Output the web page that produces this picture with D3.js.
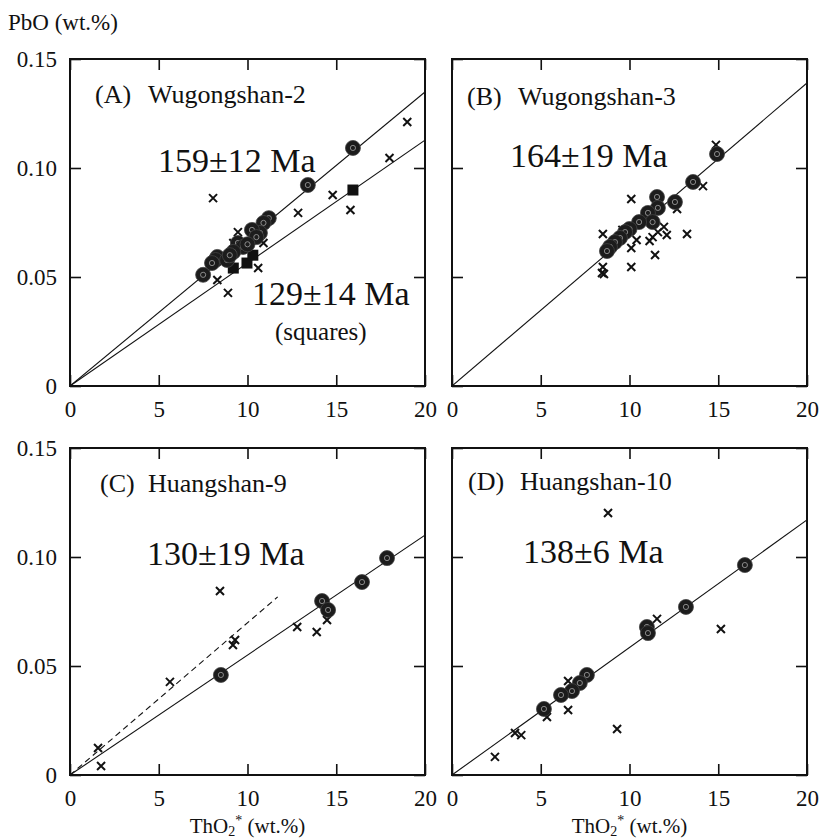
<!DOCTYPE html>
<html><head><meta charset="utf-8">
<script src="https://cdn.jsdelivr.net/npm/d3@7"></script>
<style>
html,body{margin:0;padding:0;background:#fff;}
</style></head>
<body>
<svg id="chart" width="819" height="839"></svg>
<script>
// ---------------- DATA ----------------
const xTicks = [0, 5, 10, 15, 20];
const yTicks = [0, 0.05, 0.10, 0.15];
const yTickLabels = ["0", "0.05", "0.10", "0.15"];

// Panel A: Wugongshan-2
const aCircles = [[15.94,0.1092],[13.4,0.0922],[11.2,0.0770],[10.9,0.0748],[10.7,0.0702],[10.25,0.0716],
  [10.5,0.0683],[9.46,0.0656],[9.75,0.0638],[9.2,0.0615],[8.3,0.0592],[8.2,0.0578],[8.0,0.0564],
  [8.85,0.0578],[9.0,0.0600],[10.0,0.0650],[7.5,0.0510]];
const aSquares = [[9.2,0.0541],[9.97,0.0564],[10.3,0.0600],[15.94,0.0899]];
const aCrosses = [[19.0,0.1211],[18.0,0.1046],[14.8,0.0876],[12.85,0.0794],[15.8,0.0807],[8.06,0.0862],
  [9.46,0.0706],[9.2,0.0656],[10.9,0.0656],[10.6,0.0541],[8.3,0.0486],[8.9,0.0427]];
const aLineUpper = [[0,0],[20,0.1349]];
const aLineLower = [[0,0],[20,0.1128]];

// Panel B: Wugongshan-3
const bCircles = [[14.93,0.1064],[13.58,0.0936],[12.56,0.0844],[11.55,0.0867],[11.6,0.0817],[11.04,0.0794],
  [11.3,0.0752],[10.54,0.0752],[10.0,0.0720],[9.75,0.0706],[9.46,0.0679],[9.18,0.0660],[8.9,0.0638],[8.73,0.0619]];
const bCrosses = [[14.87,0.1106],[14.14,0.0917],[10.1,0.0858],[12.68,0.0812],[11.94,0.0730],[11.6,0.0706],
  [12.1,0.0693],[11.3,0.0683],[11.13,0.0665],[13.24,0.0697],[11.44,0.0601],[10.1,0.0633],[10.1,0.0546],
  [8.5,0.0697],[8.5,0.0546],[8.45,0.0518],[8.56,0.0514],[9.6,0.0716],[10.4,0.0670]];
const bLine = [[0,0],[20,0.1390]];

// Panel C: Huangshan-9
const cCircles = [[17.86,0.0995],[16.45,0.0885],[14.2,0.0798],[14.54,0.0757],[8.5,0.0459]];
const cCrosses = [[8.45,0.0844],[9.3,0.0619],[9.18,0.0596],[12.8,0.0679],[13.9,0.0656],[14.48,0.0711],
  [5.63,0.0427],[1.58,0.0124],[1.75,0.0041]];
const cLine = [[0,0],[20,0.1100]];
const cDashed = [[0,0],[11.7,0.0817]];

// Panel D: Huangshan-10
const dCircles = [[16.5,0.0963],[13.18,0.0771],[10.98,0.0679],[11.04,0.0651],[7.6,0.0459],[7.2,0.0422],
  [6.76,0.0385],[6.14,0.0367],[5.18,0.0303]];
const dCrosses = [[8.79,0.1202],[11.55,0.0716],[15.15,0.0670],[6.54,0.0431],[6.54,0.0298],[5.35,0.0266],
  [9.3,0.0211],[3.55,0.0193],[3.9,0.0183],[2.42,0.0083]];
const dLine = [[0,0],[20,0.1170]];

const panelTags = ["(A)", "(B)", "(C)", "(D)"];
const panelNames = ["Wugongshan-2", "Wugongshan-3", "Huangshan-9", "Huangshan-10"];

// ---------------- LAYOUT ----------------
const FONT = "'Liberation Serif', 'Times New Roman', Times, serif";
const W = 355, H = 327;
const svg = d3.select("#chart").attr("font-family", FONT);
const x = d3.scaleLinear().domain([0, 20]).range([0, W]);
const y = d3.scaleLinear().domain([0, 0.15]).range([H, 0]);
const line = d3.line().x(d => x(d[0])).y(d => y(d[1]));

const panels = [
  {left:70,  top:59,  tag:0, circles:aCircles, squares:aSquares, crosses:aCrosses,
   lines:[aLineUpper, aLineLower], dashed:null, yLabels:true,
   texts:[{t:"159±12 Ma", x:88, y:113, s:34},{t:"129±14 Ma", x:182, y:246, s:34},{t:"(squares)", x:205, y:281, s:25}],
   tagX:25, nameX:78, tagY:44},
  {left:452, top:59,  tag:1, circles:bCircles, squares:[], crosses:bCrosses,
   lines:[bLine], dashed:null, yLabels:false,
   texts:[{t:"164±19 Ma", x:58, y:108, s:34}], tagX:15, nameX:66, tagY:46},
  {left:70,  top:448, tag:2, circles:cCircles, squares:[], crosses:cCrosses,
   lines:[cLine], dashed:cDashed, yLabels:true,
   texts:[{t:"130±19 Ma", x:77, y:117, s:34}], tagX:30, nameX:78, tagY:44},
  {left:452, top:448, tag:3, circles:dCircles, squares:[], crosses:dCrosses,
   lines:[dLine], dashed:null, yLabels:false,
   texts:[{t:"138±6 Ma", x:71, y:115, s:34}], tagX:16, nameX:68, tagY:42}
];

function styleAxis(sel) {
  sel.attr("font-family", FONT).attr("font-size", 23);
  sel.select(".domain").remove();
  sel.selectAll(".tick line").attr("stroke", "#111").attr("stroke-width", 1.6);
  sel.selectAll(".tick text").attr("fill", "#111");
}

panels.forEach(p => {
  const g = svg.append("g").attr("transform", `translate(${p.left},${p.top})`);
  const clip = "clip" + p.tag;
  g.append("clipPath").attr("id", clip).append("rect").attr("width", W).attr("height", H);

  // axes (inward ticks)
  const bx = g.append("g").attr("transform", `translate(0,${H})`)
    .call(d3.axisBottom(x).tickValues(xTicks).tickSize(-11).tickPadding(15).tickFormat(d3.format("d")));
  styleAxis(bx);
  bx.selectAll("text").filter(d => d === 20).attr("text-anchor", "end").attr("dx", "0.5em");
  styleAxis(g.append("g").call(d3.axisTop(x).tickValues(xTicks).tickSize(-11).tickFormat("")));
  styleAxis(g.append("g").call(d3.axisLeft(y).tickValues(yTicks).tickSize(-11).tickPadding(13)
    .tickFormat((d, i) => p.yLabels ? yTickLabels[i] : "")));
  styleAxis(g.append("g").attr("transform", `translate(${W},0)`)
    .call(d3.axisRight(y).tickValues(yTicks).tickSize(-11).tickFormat("")));

  const plot = g.append("g").attr("clip-path", `url(#${clip})`);
  p.lines.forEach(l => plot.append("path").datum(l).attr("d", line)
    .attr("fill", "none").attr("stroke", "#111").attr("stroke-width", 1.1));
  if (p.dashed) plot.append("path").datum(p.dashed).attr("d", line)
    .attr("fill", "none").attr("stroke", "#111").attr("stroke-width", 1.1).attr("stroke-dasharray", "6,4");

  // crosses
  const cs = 4;
  plot.selectAll(".cross").data(p.crosses).enter().append("path")
    .attr("d", d => `M${x(d[0])-cs},${y(d[1])-cs}L${x(d[0])+cs},${y(d[1])+cs}M${x(d[0])-cs},${y(d[1])+cs}L${x(d[0])+cs},${y(d[1])-cs}`)
    .attr("stroke", "#111").attr("stroke-width", 2).attr("fill", "none");

  // squares
  plot.selectAll(".sq").data(p.squares).enter().append("rect")
    .attr("x", d => x(d[0]) - 5.5).attr("y", d => y(d[1]) - 5.5)
    .attr("width", 11).attr("height", 11).attr("fill", "#111");

  // circles
  const cg = plot.selectAll(".circ").data(p.circles).enter().append("g")
    .attr("transform", d => `translate(${x(d[0])},${y(d[1])})`);
  cg.append("circle").attr("r", 7.5).attr("fill", "#1c1c1c").attr("stroke", "#444").attr("stroke-width", 0.8);
  cg.append("circle").attr("r", 2.6).attr("fill", "none").attr("stroke", "#8a8a8a").attr("stroke-width", 1);

  // frame
  g.append("rect").attr("width", W).attr("height", H).attr("fill", "none")
    .attr("stroke", "#111").attr("stroke-width", 2);

  // labels
  g.append("text").attr("x", p.tagX).attr("y", p.tagY).attr("font-size", 26).attr("fill", "#111").text(panelTags[p.tag]);
  g.append("text").attr("x", p.nameX).attr("y", p.tagY).attr("font-size", 26).attr("fill", "#111").text(panelNames[p.tag]);
  p.texts.forEach(t => g.append("text").attr("x", t.x).attr("y", t.y).attr("fill", "#111")
    .attr("font-size", t.s).text(t.t));
});

// axis titles
svg.append("text").attr("x", 8).attr("y", 30).attr("font-size", 23).attr("fill", "#111").text("PbO (wt.%)");
[70, 452].forEach(l => {
  const t = svg.append("text").attr("x", l + W / 2).attr("y", 833).attr("text-anchor", "middle")
    .attr("font-size", 21).attr("fill", "#111");
  t.append("tspan").text("ThO");
  t.append("tspan").attr("dy", 3).attr("font-size", 14).text("2");
  t.append("tspan").attr("dy", -11).attr("font-size", 14).text("*");
  t.append("tspan").attr("dy", 8).text(" (wt.%)");
});
</script>
</body></html>
